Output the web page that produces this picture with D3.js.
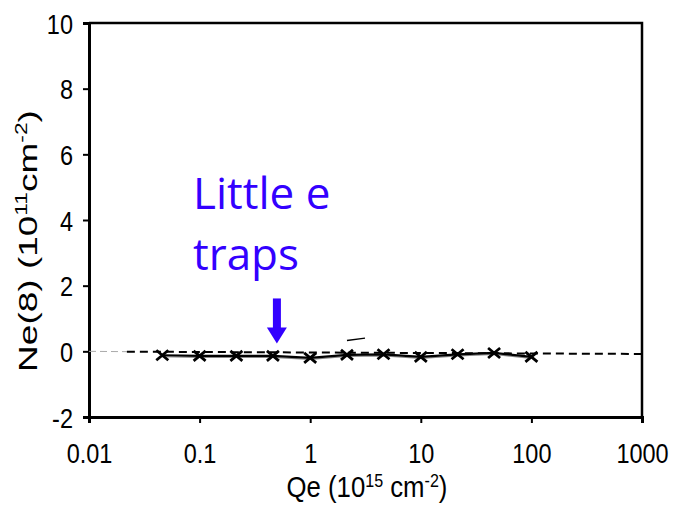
<!DOCTYPE html>
<html><head><meta charset="utf-8">
<script src="https://cdn.jsdelivr.net/npm/d3@7"></script>
<style>
body{margin:0;background:#fff;}
svg{display:block;}
</style>
</head><body>
<script>
// Data
const qe = [0.046, 0.1, 0.215, 0.46, 1, 2.15, 4.6, 10, 21.5, 46, 100];
const ne = [-0.12, -0.14, -0.14, -0.14, -0.2, -0.11, -0.09, -0.17, -0.09, -0.05, -0.17];
const fitGrayQe = [0.01, 0.022];
const fitGrayNe = [0.0, -0.01];
const fitQe = [0.022, 1000];
const fitNe = [-0.01, -0.08];
const strayQe = [2.15, 3.13];
const strayNe = [0.33, 0.4];
const xTicks = [0.01, 0.1, 1, 10, 100, 1000];
const yTicks = [-2, 0, 2, 4, 6, 8, 10];
const arrowQe = 0.5, arrowTipNe = 0.24;
const noteLines = ["Little e", "traps"];

const W = 677, H = 506;
const FONT = "Liberation Sans, Arial, sans-serif";
const svg = d3.select("body").append("svg").attr("width", W).attr("height", H)
  .style("font-family", FONT);
const x = d3.scaleLog().domain([0.01, 1000]).range([89, 642]);
const y = d3.scaleLinear().domain([-2, 10]).range([417, 23]);

// frame (top & right)
svg.append("path")
  .attr("d", `M${x(0.01)},${y(10)}H${x(1000)}V${y(-2)}`)
  .attr("fill", "none").attr("stroke", "#000").attr("stroke-width", 2.5);

// axes
const gx = svg.append("g").attr("transform", `translate(0,${y(-2)})`)
  .call(d3.axisBottom(x).tickValues(xTicks).tickFormat(d => d3.format("~g")(d)).tickSize(6));
const gy = svg.append("g").attr("transform", `translate(${x(0.01)},0)`)
  .call(d3.axisLeft(y).tickValues(yTicks).tickFormat(d => String(d)).tickSize(6).tickPadding(10));
[gx, gy].forEach(g => {
  g.select(".domain").attr("stroke", "#000").attr("stroke-width", 3);
  g.selectAll(".tick line").attr("stroke", "#000").attr("stroke-width", 2);
  g.selectAll(".tick text").attr("font-size", 23.5).attr("fill", "#000").attr("font-family", FONT);
});
gy.selectAll(".tick text").attr("dy", "0.36em").attr("transform", "scale(1,1.2)");
gx.selectAll(".tick text").attr("y", 0).attr("dy", 0).attr("transform", "translate(0,46) scale(1,1.2)");

// axis titles
const xt = svg.append("text").attr("text-anchor", "middle").attr("font-size", 24);
xt.append("tspan").text("Qe (10");
xt.append("tspan").text("15").attr("font-size", 15).attr("dy", -8);
xt.append("tspan").text(" cm").attr("dy", 8);
xt.append("tspan").text("-2").attr("font-size", 15).attr("dy", -8);
xt.append("tspan").text(")").attr("dy", 8);
const xw = xt.node().getComputedTextLength();
xt.attr("transform", `translate(367,497) scale(${161 / xw},1.2)`);

const yt = svg.append("text").attr("text-anchor", "middle").attr("font-size", 26);
yt.append("tspan").text("Ne(8) (10");
yt.append("tspan").text("11").attr("font-size", 16).attr("dy", -10);
yt.append("tspan").text("cm").attr("dy", 10);
yt.append("tspan").text("-2").attr("font-size", 16).attr("dy", -10);
yt.append("tspan").text(")").attr("dy", 10);
const yw = yt.node().getComputedTextLength();
yt.attr("transform", `translate(37,241) rotate(-90) scale(${262 / yw},1)`);

const line = d3.line().x(d => x(d[0])).y(d => y(d[1]));

// fit dashed lines
svg.append("path").datum(d3.zip(fitGrayQe, fitGrayNe)).attr("d", line)
  .attr("fill", "none").attr("stroke", "#aaa").attr("stroke-width", 1).attr("stroke-dasharray", "7,4");
svg.append("path").datum(d3.zip(fitQe, fitNe)).attr("d", line)
  .attr("fill", "none").attr("stroke", "#000").attr("stroke-width", 2).attr("stroke-dasharray", "8,5");

// data line
const pts = d3.zip(qe, ne);
svg.append("path").datum(pts).attr("d", line)
  .attr("fill", "none").attr("stroke", "#888").attr("stroke-width", 1.2).attr("transform", "translate(0,1.5)");
svg.append("path").datum(pts).attr("d", line)
  .attr("fill", "none").attr("stroke", "#000").attr("stroke-width", 2.2);

// X markers
svg.append("g").selectAll("path").data(pts).join("path")
  .attr("d", d => { const cx = x(d[0]), cy = y(d[1]), a = 6, b = 5;
    return `M${cx-a},${cy-b}L${cx+a},${cy+b}M${cx-a},${cy+b}L${cx+a},${cy-b}`; })
  .attr("stroke", "#000").attr("stroke-width", 2.8).attr("fill", "none");

// stray short mark
svg.append("path").datum(d3.zip(strayQe, strayNe)).attr("d", line)
  .attr("fill", "none").attr("stroke", "#000").attr("stroke-width", 1.3);

// annotation
const blue = "#3300ff";
svg.append("g").selectAll("text").data(noteLines).join("text")
  .attr("x", 193).attr("y", (d, i) => 209 + i * 61)
  .style("font-family", "'Open Sans', sans-serif").attr("font-size", 44).attr("fill", blue)
  .text(d => d);

const ax = x(arrowQe), tip = y(arrowTipNe);
svg.append("rect").attr("x", ax - 4).attr("y", tip - 45).attr("width", 8).attr("height", 30).attr("fill", blue);
svg.append("path").attr("d", `M${ax-10},${tip-16}L${ax+10},${tip-16}L${ax},${tip}Z`).attr("fill", blue);
</script>
</body></html>
